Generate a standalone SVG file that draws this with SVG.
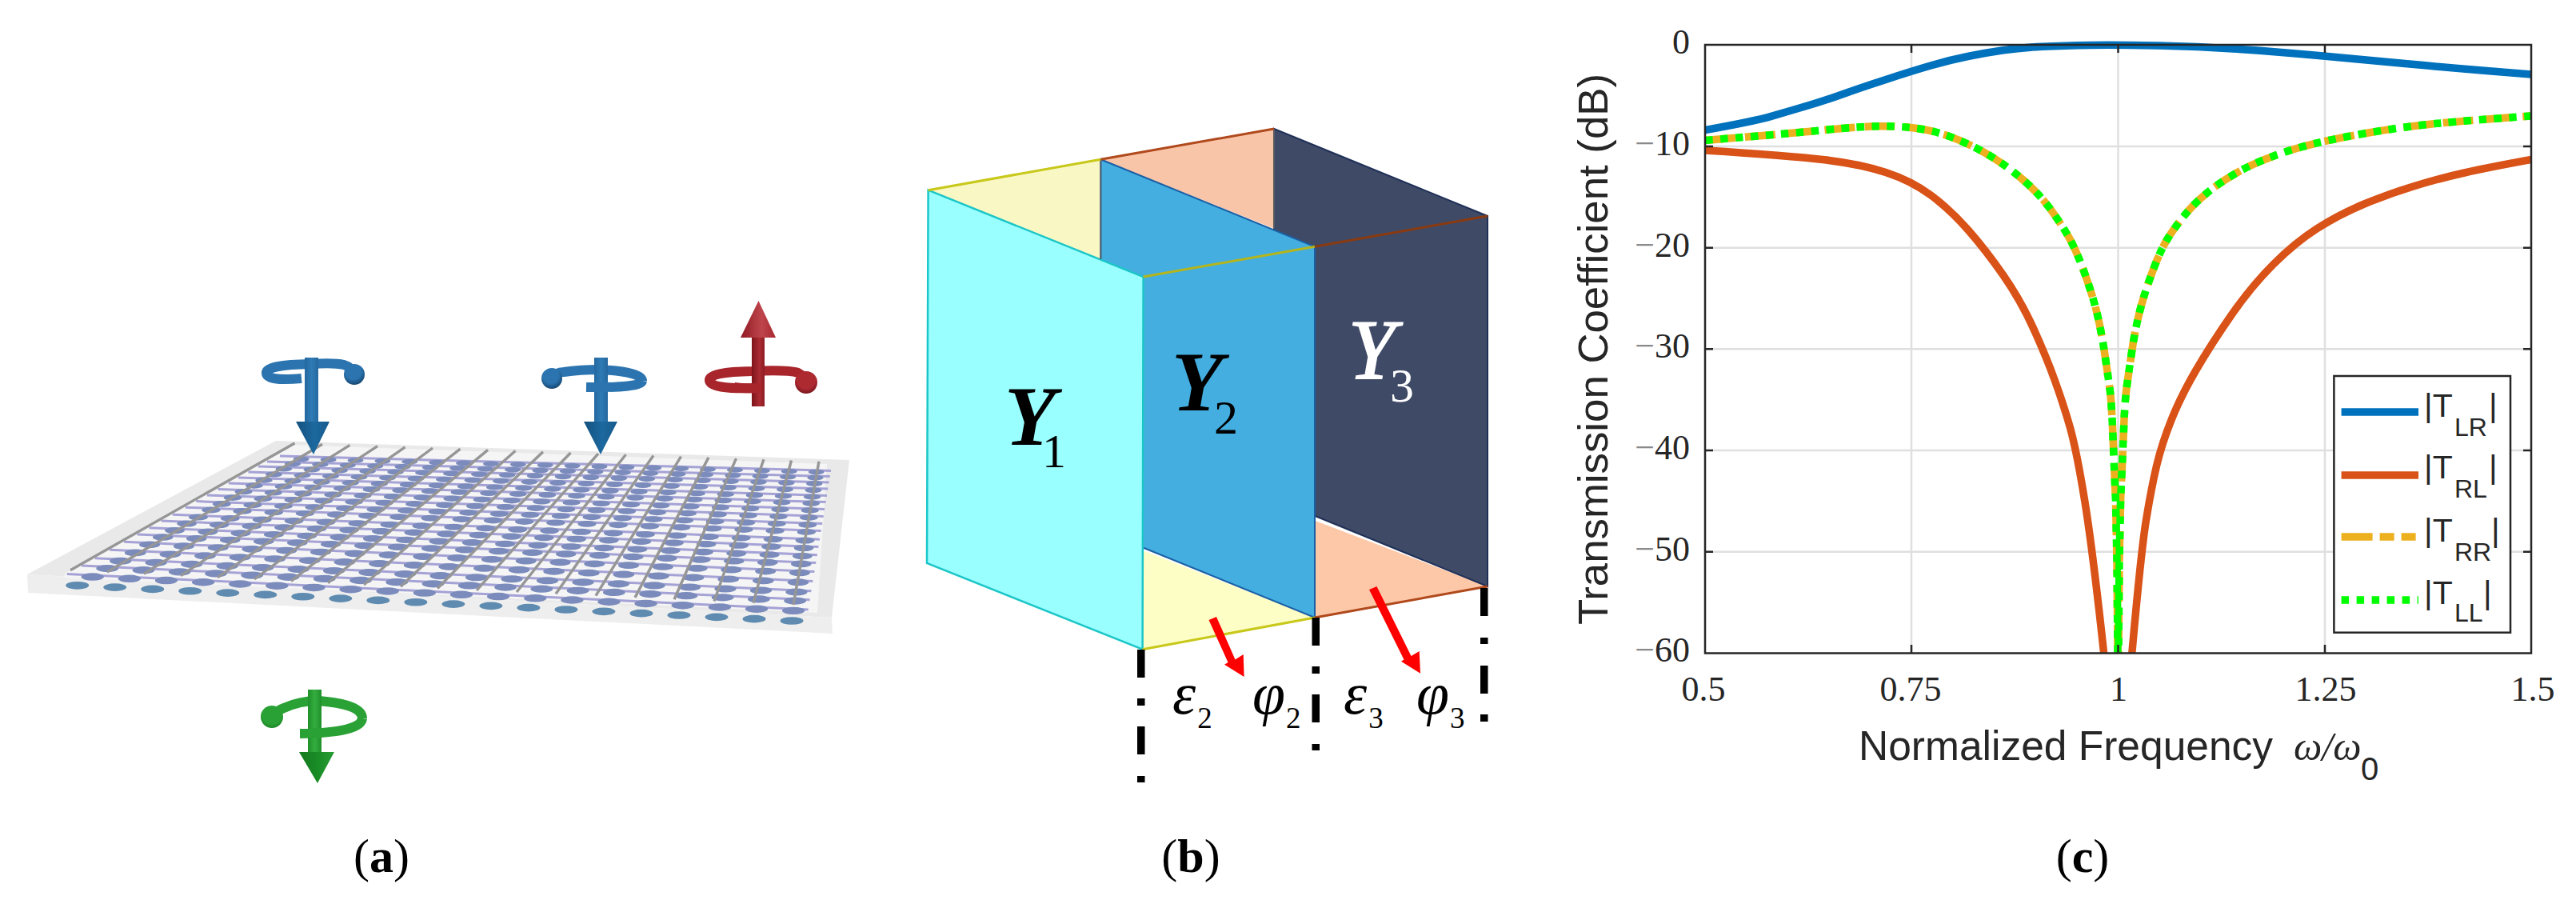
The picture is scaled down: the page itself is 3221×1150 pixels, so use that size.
<svg xmlns="http://www.w3.org/2000/svg" width="3221" height="1150" viewBox="0 0 3221 1150">
<style>
text{font-family:"Liberation Serif",serif}
.sans{font-family:"Liberation Sans",Arial,sans-serif;fill:#262626}
.tick{font-size:44px;fill:#262626}
.tm{fill:#8a8a8a}
.grid{stroke:#dfdfdf;stroke-width:2.5;fill:none}
.ax{stroke:#262626;stroke-width:2.5;fill:none}
.cv{fill:none;stroke-width:9.5;stroke-linejoin:round}
.dot{fill:none;stroke:#7a8bbc;stroke-linecap:round;stroke-dasharray:0 1}
.pl{stroke:#a5a2d6;stroke-width:3;fill:none}
.gl{stroke:#969696;stroke-width:3.4;fill:none}
.tube{fill:none;stroke-width:12;stroke-linecap:butt}
.blue{stroke:#2b74af}.red{stroke:#a8252c}.green{stroke:#2aa135}
.dd{fill:#000}
.math{font-style:italic;font-size:74px;fill:#000}
.sub{font-size:37px;fill:#000;font-style:normal}
.ybig{font-size:105px;font-style:italic}
.ysub{font-size:60px;font-style:normal;font-weight:normal}
.lab{font-size:60px;fill:#000}
.leg{font-size:41px}
.legs{font-size:32px}
</style>
<defs>
<linearGradient id="hb"><stop offset="0" stop-color="#15527f"/><stop offset=".55" stop-color="#1c689f"/><stop offset="1" stop-color="#175a8c"/></linearGradient>
<linearGradient id="sb"><stop offset="0" stop-color="#24689f"/><stop offset=".5" stop-color="#2f7bb6"/><stop offset="1" stop-color="#24689f"/></linearGradient>
<linearGradient id="hr"><stop offset="0" stop-color="#8f1a22"/><stop offset=".6" stop-color="#bf454c"/><stop offset="1" stop-color="#a82730"/></linearGradient>
<linearGradient id="sr"><stop offset="0" stop-color="#7d141b"/><stop offset=".6" stop-color="#ab2b32"/><stop offset="1" stop-color="#8d1c24"/></linearGradient>
<linearGradient id="hg"><stop offset="0" stop-color="#137a1e"/><stop offset=".55" stop-color="#1a8d27"/><stop offset="1" stop-color="#2a9c35"/></linearGradient>
<linearGradient id="sg"><stop offset="0" stop-color="#1f8f2a"/><stop offset=".5" stop-color="#34ad3f"/><stop offset="1" stop-color="#1f8f2a"/></linearGradient>
<radialGradient id="bb" cx=".45" cy=".35" r=".7"><stop offset=".55" stop-color="#2b74af"/><stop offset="1" stop-color="#123f66"/></radialGradient>
<radialGradient id="br" cx=".5" cy=".35" r=".7"><stop offset=".6" stop-color="#ad2a31"/><stop offset="1" stop-color="#6d1218"/></radialGradient>
<radialGradient id="bg" cx=".5" cy=".4" r=".7"><stop offset=".6" stop-color="#2aa135"/><stop offset="1" stop-color="#167a20"/></radialGradient>
<clipPath id="plot"><rect x="2132" y="50" width="1033" height="766.5"/></clipPath>
</defs>
<rect width="3221" height="1150" fill="#fff"/>

<g id="panel-a">
<g id="plate">
<polygon points="345,551 1062,575 1040,772 34,718" fill="#e9e9e9"/>
<polygon points="34,718 1040,772 1041,792 35,741" fill="#eeeeee"/>
<polygon points="82,716 366,556 1034,580 1022,766 80,722" fill="#f5f5f5"/>
</g>
<g id="purple-lines" class="pl" transform="translate(3,-2)">
<line x1="80.7" y1="719.4" x2="1007.6" y2="764.1"/>
<line x1="99.2" y1="708.9" x2="1009.6" y2="751.8"/>
<line x1="115.7" y1="699.7" x2="1011.4" y2="740.8"/>
<line x1="134.2" y1="689.3" x2="1013.4" y2="728.5"/>
<line x1="152.1" y1="679.3" x2="1015.4" y2="716.5"/>
<line x1="168.7" y1="669.9" x2="1017.2" y2="705.5"/>
<line x1="183.5" y1="661.7" x2="1018.8" y2="695.7"/>
<line x1="198.6" y1="653.1" x2="1020.4" y2="685.6"/>
<line x1="212.9" y1="645.2" x2="1022" y2="676.2"/>
<line x1="228.9" y1="636.2" x2="1023.7" y2="665.6"/>
<line x1="242.3" y1="628.6" x2="1025.2" y2="656.5"/>
<line x1="256" y1="620.9" x2="1026.7" y2="647.4"/>
<line x1="269.5" y1="613.4" x2="1028.1" y2="638.5"/>
<line x1="282.9" y1="605.9" x2="1029.6" y2="629.6"/>
<line x1="295" y1="599.1" x2="1030.9" y2="621.6"/>
<line x1="307.5" y1="592.1" x2="1032.3" y2="613.1"/>
<line x1="319.9" y1="585.1" x2="1033.6" y2="604.9"/>
<line x1="331" y1="578.9" x2="1034.8" y2="597.5"/>
<line x1="347" y1="572" x2="1036" y2="590.4"/>
</g>
<g id="dots" transform="scale(1,0.33333)">
<line class="dot" pathLength="19.01" style="stroke:#5f8bb0;stroke-width:29" x1="96.7" y1="2195.4" x2="990.5" y2="2328"/>
<line class="dot" pathLength="19.01" stroke-width="28.4" x1="115.7" y1="2163.3" x2="992.6" y2="2290.2"/>
<line class="dot" pathLength="19.01" stroke-width="27.8" x1="134.2" y1="2131.8" x2="994.6" y2="2253.3"/>
<line class="dot" pathLength="19.01" stroke-width="27.3" x1="150.7" y1="2103.9" x2="996.4" y2="2220.3"/>
<line class="dot" pathLength="19.01" stroke-width="26.7" x1="169.2" y1="2072.7" x2="998.4" y2="2183.4"/>
<line class="dot" pathLength="19.01" stroke-width="26.1" x1="187.1" y1="2042.4" x2="1000.4" y2="2147.7"/>
<line class="dot" pathLength="19.01" stroke-width="25.6" x1="203.7" y1="2014.2" x2="1002.2" y2="2114.7"/>
<line class="dot" pathLength="19.01" stroke-width="25" x1="218.5" y1="1989.3" x2="1003.8" y2="2085.3"/>
<line class="dot" pathLength="19.01" stroke-width="24.6" x1="233.6" y1="1963.5" x2="1005.4" y2="2055"/>
<line class="dot" pathLength="19.01" stroke-width="24" x1="247.9" y1="1939.5" x2="1007" y2="2026.8"/>
<line class="dot" pathLength="19.01" stroke-width="23.6" x1="263.9" y1="1912.5" x2="1008.7" y2="1995"/>
<line class="dot" pathLength="19.01" stroke-width="23.2" x1="277.3" y1="1889.7" x2="1010.2" y2="1968"/>
<line class="dot" pathLength="19.01" stroke-width="22.8" x1="291" y1="1866.3" x2="1011.7" y2="1940.7"/>
<line class="dot" pathLength="19.01" stroke-width="22.3" x1="304.5" y1="1843.8" x2="1013.1" y2="1914"/>
<line class="dot" pathLength="19.01" stroke-width="21.9" x1="317.9" y1="1821" x2="1014.6" y2="1887.3"/>
<line class="dot" pathLength="19.01" stroke-width="21.5" x1="330" y1="1800.6" x2="1015.9" y2="1863.3"/>
<line class="dot" pathLength="19.01" stroke-width="21.1" x1="342.5" y1="1779.3" x2="1017.3" y2="1838.1"/>
<line class="dot" pathLength="19.01" stroke-width="20.7" x1="354.9" y1="1758.3" x2="1018.6" y2="1813.5"/>
<line class="dot" pathLength="19.01" stroke-width="20.3" x1="366" y1="1739.4" x2="1019.8" y2="1791.3"/>
<line class="dot" pathLength="19.01" stroke-width="20" x1="376.7" y1="1721.4" x2="1021" y2="1770"/>
</g>
<g id="gray-lines" class="gl">
<line x1="88" y1="712.7" x2="368.5" y2="554"/>
<line x1="134" y1="715" x2="403" y2="555.2"/>
<line x1="180" y1="717.3" x2="437.5" y2="556.4"/>
<line x1="226" y1="719.5" x2="472" y2="557.6"/>
<line x1="272" y1="721.8" x2="506.5" y2="558.8"/>
<line x1="318" y1="724" x2="541" y2="560"/>
<line x1="364" y1="726.4" x2="575.5" y2="561.2"/>
<line x1="410" y1="728.7" x2="610" y2="562.4"/>
<line x1="455" y1="731" x2="644.5" y2="563.6"/>
<line x1="501" y1="733.2" x2="679" y2="564.8"/>
<line x1="547" y1="735.5" x2="713.5" y2="566"/>
<line x1="596" y1="737.8" x2="748" y2="567.1"/>
<line x1="646" y1="740" x2="782.5" y2="568.3"/>
<line x1="695" y1="742.3" x2="817" y2="569.5"/>
<line x1="745" y1="744.6" x2="851.5" y2="570.7"/>
<line x1="794" y1="746.9" x2="886" y2="571.9"/>
<line x1="843" y1="749.2" x2="920.5" y2="573.1"/>
<line x1="893" y1="751.5" x2="955" y2="574.3"/>
<line x1="942" y1="753.7" x2="989.5" y2="575.5"/>
<line x1="992" y1="756" x2="1024" y2="576.7"/>
</g>
<g id="arrow-blue-1">
<path class="tube blue" d="M377,473 Q333,477 333,466 Q333,456 388,455 Q418,453 430,456 Q440,459 443,468"/>
<circle cx="443" cy="468" r="13" fill="url(#bb)"/>
<rect x="381" y="447" width="17" height="82" fill="url(#sb)"/>
<polygon points="370,527 412,527 392,568" fill="url(#hb)"/>
</g>
<g id="arrow-blue-2">
<path class="tube blue" d="M690,473 Q695,465 705,465 Q725,462 750,462 Q803,465 803,476"/>
<circle cx="690" cy="473" r="13" fill="url(#bb)"/>
<rect x="743" y="447" width="17" height="82" fill="url(#sb)"/>
<path class="tube blue" d="M803,476 Q802,485 733,484"/>
<polygon points="730,527 772,527 751,568" fill="url(#hb)"/>
</g>
<g id="arrow-red">
<path class="tube red" d="M946,485 Q887,487 887,475 Q887,465 940,464 Q985,462 998,466 Q1006,470 1008,478"/>
<circle cx="1008" cy="478" r="14" fill="url(#br)"/>
<rect x="940" y="420" width="16" height="88" fill="url(#sr)"/>
<path class="tube red" d="M918,484 Q930,486 952,485"/>
<polygon points="926,422 970,422 948.5,376" fill="url(#hr)"/>
</g>
<g id="arrow-green">
<path class="tube green" d="M340,896 Q346,888 355,885 Q375,876 397,876 Q453,880 453,898"/>
<circle cx="340" cy="896" r="14" fill="url(#bg)"/>
<rect x="385" y="862" width="17" height="80" fill="url(#sg)"/>
<path class="tube green" d="M453,898 Q451,916 375,917"/>
<polygon points="374,940 418,940 397,979" fill="url(#hg)"/>
</g>
<text class="lab" x="477" y="1090" text-anchor="middle">(<tspan font-weight="bold">a</tspan>)</text>
</g>

<g id="panel-b">
<g id="floors">
<polygon points="1160.6,237.7 1376.3,199.3 1376.3,324" fill="#f9f8c4"/>
<polygon points="1376.3,199.3 1593,161 1593,285.7" fill="#f9c5a9"/>
<polygon points="1428.6,688 1644,772 1428.6,811.7" fill="#fdfdc6"/>
<polygon points="1644,650.7 1860,733 1644,772" fill="#fdc8a8"/>
</g>
<g id="face-Y3">
<polygon points="1593,161 1860,270 1860,733 1593,624" fill="#3f4a66" stroke="#1f3058" stroke-width="2"/>
</g>
<g id="face-Y2">
<polygon points="1376.3,199.3 1644,308.3 1644,772 1376.3,663" fill="#44aee0" stroke="#1a5fa5" stroke-width="2"/>
</g>
<g id="face-Y1">
<polygon points="1160.6,237.7 1429.6,346 1428.6,811.7 1159,704" fill="#99ffff" stroke="#1cc6c8" stroke-width="2.5"/>
</g>
<g id="edges" fill="none" stroke-width="3">
<path d="M1376.3,199.3V324" stroke="#5a6670" stroke-width="2"/>
<path d="M1593,161V285.7" stroke="#5a5a60" stroke-width="2"/>
<path d="M1160.6,237.7L1376.3,199.3" stroke="#c8c81a"/>
<path d="M1429.6,346L1644,308.3" stroke="#b5b51a"/>
<path d="M1428.6,811.7L1644,772" stroke="#c8c81a"/>
<path d="M1376.3,199.3L1593,161" stroke="#b0491c"/>
<path d="M1644,308.3L1860,270" stroke="#8a3a10"/>
<path d="M1644,772L1860,733" stroke="#b0491c"/>
</g>
<g id="dash-dots" class="dd">
<rect x="1422" y="812" width="9.5" height="35"/><rect x="1422" y="873" width="9.5" height="9"/><rect x="1422" y="908" width="9.5" height="35"/><rect x="1422" y="970" width="9.5" height="8"/>
<rect x="1640.5" y="772" width="9.5" height="35"/><rect x="1640.5" y="833" width="9.5" height="9"/><rect x="1640.5" y="868" width="9.5" height="35"/><rect x="1640.5" y="930" width="9.5" height="8"/>
<rect x="1851" y="735" width="9.5" height="35"/><rect x="1851" y="797" width="9.5" height="8"/><rect x="1851" y="832" width="9.5" height="35"/><rect x="1851" y="893" width="9.5" height="9"/>
</g>
<g id="red-arrows" fill="#ff0000" stroke="none">
<polygon points="1511.5,775 1521,771 1544.5,824.5 1554.7,818 1555.6,846 1531,830.7 1535.5,828"/>
<polygon points="1712,737 1721.5,733 1764.5,820 1774.7,814 1776,841.7 1752,826.7 1755.5,824.5"/>
</g>
<g id="labels-b">
<text class="ybig" x="1256" y="556" font-weight="bold" fill="#000">Y</text><text class="ysub" x="1303" y="584" fill="#000">1</text>
<text class="ybig" x="1465" y="513" font-weight="bold" fill="#000">Y</text><text class="ysub" x="1518" y="542" fill="#000">2</text>
<text class="ybig" x="1686" y="473" fill="#fff" stroke="#fff" stroke-width="2">Y</text><text class="ysub" x="1738" y="502" fill="#fff">3</text>
<text class="math" x="1466" y="892">ε<tspan class="sub" dx="2" dy="18">2</tspan></text>
<text class="math" x="1566" y="892">φ<tspan class="sub" dx="1" dy="18">2</tspan></text>
<text class="math" x="1680" y="892">ε<tspan class="sub" dx="2" dy="18">3</tspan></text>
<text class="math" x="1771" y="892">φ<tspan class="sub" dx="1" dy="18">3</tspan></text>
</g>
<text class="lab" x="1489" y="1090" text-anchor="middle">(<tspan font-weight="bold">b</tspan>)</text>
</g>

<g id="panel-c">
<g id="gridlines" class="grid">
<path d="M2132,183H3165M2132,309.7H3165M2132,436.3H3165M2132,563H3165M2132,689.7H3165"/>
<path d="M2390,56V816M2648.5,56V816M2907,56V816"/>
</g>
<g id="connectors" clip-path="url(#plot)">
<path id="c-TLR" class="cv" stroke="#0072bd" d="M2132,162.6 Q2192.5,151.8 2214.8,145.4 Q2237,139 2259.5,132.3 Q2282,125.6 2304,117.7 Q2326,109.7 2358,99.4 Q2390,89 2414,82 Q2438,75 2460.5,70.5 Q2483,66 2505,62.8 Q2527,59.5 2553.5,58.2 Q2580,56.8 2614,56.4 Q2648,56 2699,57 Q2750,58 2800,61.5 Q2850,65 2905,70 Q2960,75 3010,79.8 Q3060,84.5 3112.5,88.8 Q3165,93 3165,93"/>
<path id="c-TRL" class="cv" stroke="#d95319" d="M2132,188 Q2237,194.5 2281.5,199.8 Q2326,205 2358,215.5 Q2390,226 2414,243.8 Q2438,261.5 2460.5,287 Q2483,312.5 2505,344.3 Q2527,376 2542.8,411 Q2558.6,446 2569.3,475.5 Q2580,505 2588.3,534 Q2596.5,563 2606.8,626.5 Q2617,690 2631,820 M2665.5,820 Q2677,690 2683.5,650 Q2690,610 2696.5,582.5 Q2703,555 2715,525 Q2727,495 2746,462.5 Q2765,430 2790,394 Q2815,358 2842.5,330.5 Q2870,303 2897.5,285.5 Q2925,268 2955,255.5 Q2985,243 3017.5,233 Q3050,223 3081.5,216 Q3113,209 3165,199.5"/>
<path id="c-TRR" class="cv" stroke="#edb120" stroke-dasharray="38 12" d="M2132,175.4 Q2237,167 2281.5,162.5 Q2326,158 2348.5,157.8 Q2371,157.5 2393.5,160 Q2416,162.6 2438,170.6 Q2460,178.6 2482.5,191.3 Q2505,204 2527.5,223 Q2550,242 2565,263 Q2580,284 2588.5,299.5 Q2597,315 2607.3,343.5 Q2617.5,372 2622.7,394 Q2627.8,416 2631.7,442 Q2635.6,468 2637.8,484 Q2640,500 2641.4,531.5 Q2642.7,563 2645.4,625 L2647,701 L2648,816 L2649,816 L2650,701 L2651.6,625 Q2654.3,563 2655.7,531.5 Q2657,500 2659.2,484 Q2661.4,468 2665.2,442 Q2669,416 2674.3,394 Q2679.5,372 2689.8,344 Q2700,316 2708.5,301.5 Q2717,287 2732,268.5 Q2747,250 2769.5,233.5 Q2792,217 2818.5,205 Q2845,193 2876,184.2 Q2907,175.4 2958.5,166.5 Q3010,157.7 3051.5,153.9 Q3093,150 3165,145"/>
<path id="c-TLL" class="cv" stroke="#00ff00" stroke-dasharray="9.5 9.5" d="M2132,175.4 Q2237,167 2281.5,162.5 Q2326,158 2348.5,157.8 Q2371,157.5 2393.5,160 Q2416,162.6 2438,170.6 Q2460,178.6 2482.5,191.3 Q2505,204 2527.5,223 Q2550,242 2565,263 Q2580,284 2588.5,299.5 Q2597,315 2607.3,343.5 Q2617.5,372 2622.7,394 Q2627.8,416 2631.7,442 Q2635.6,468 2637.8,484 Q2640,500 2641.4,531.5 Q2642.7,563 2645.4,625 L2647,701 L2648,816 L2649,816 L2650,701 L2651.6,625 Q2654.3,563 2655.7,531.5 Q2657,500 2659.2,484 Q2661.4,468 2665.2,442 Q2669,416 2674.3,394 Q2679.5,372 2689.8,344 Q2700,316 2708.5,301.5 Q2717,287 2732,268.5 Q2747,250 2769.5,233.5 Q2792,217 2818.5,205 Q2845,193 2876,184.2 Q2907,175.4 2958.5,166.5 Q3010,157.7 3051.5,153.9 Q3093,150 3165,145"/>
</g>
<g id="axes" class="ax">
<rect x="2132" y="56" width="1033" height="760.5"/>
<path d="M2132,183h10M2132,309.7h10M2132,436.3h10M2132,563h10M2132,689.7h10M3165,183h-10M3165,309.7h-10M3165,436.3h-10M3165,563h-10M3165,689.7h-10M2390,56v10M2648.5,56v10M2907,56v10M2390,816v-10M2648.5,816v-10M2907,816v-10"/>
</g>
<g id="tick-labels" class="tick">
<text x="2113" y="67" text-anchor="end">0</text>
<text x="2113" y="194" text-anchor="end"><tspan class="tm">−</tspan>10</text>
<text x="2113" y="321" text-anchor="end"><tspan class="tm">−</tspan>20</text>
<text x="2113" y="447" text-anchor="end"><tspan class="tm">−</tspan>30</text>
<text x="2113" y="574" text-anchor="end"><tspan class="tm">−</tspan>40</text>
<text x="2113" y="701" text-anchor="end"><tspan class="tm">−</tspan>50</text>
<text x="2113" y="827" text-anchor="end"><tspan class="tm">−</tspan>60</text>
<text x="2130" y="876" text-anchor="middle">0.5</text>
<text x="2389" y="876" text-anchor="middle">0.75</text>
<text x="2649" y="876" text-anchor="middle">1</text>
<text x="2908" y="876" text-anchor="middle">1.25</text>
<text x="3167" y="876" text-anchor="middle">1.5</text>
</g>
<text class="sans" font-size="52" transform="translate(2009.5,781) rotate(-90)" textLength="689" lengthAdjust="spacingAndGlyphs">Transmission Coefficient (dB)</text>
<text class="sans" x="2324" y="950" font-size="51.5">Normalized Frequency <tspan x="2868" style="font-family:'Liberation Serif',serif;font-style:italic" font-size="50">ω/ω</tspan><tspan x="2952" dy="25" font-size="40">0</tspan></text>
<g id="legend">
<rect x="2918.4" y="470" width="220.6" height="320.7" fill="#fff" stroke="#262626" stroke-width="2.5"/>
<line class="cv" stroke="#0072bd" x1="2927.6" y1="515" x2="3024" y2="515"/>
<line class="cv" stroke="#d95319" x1="2927.6" y1="594" x2="3024" y2="594"/>
<line class="cv" stroke="#edb120" stroke-dasharray="39 9 18 9 18" x1="2927.6" y1="671" x2="3024" y2="671"/>
<line class="cv" stroke="#00ff00" stroke-dasharray="9.5 9.5" x1="2927.6" y1="750" x2="3024" y2="750"/>
<text class="sans leg" x="3031" y="521">|T<tspan class="legs" x="3069" dy="24">LR</tspan><tspan x="3112" dy="-24">|</tspan></text>
<text class="sans leg" x="3031" y="598">|T<tspan class="legs" x="3069" dy="24">RL</tspan><tspan x="3112" dy="-24">|</tspan></text>
<text class="sans leg" x="3031" y="677">|T<tspan class="legs" x="3069" dy="24">RR</tspan><tspan x="3115" dy="-24">|</tspan></text>
<text class="sans leg" x="3031" y="755">|T<tspan class="legs" x="3069" dy="22">LL</tspan><tspan x="3105" dy="-22">|</tspan></text>
</g>
<text class="lab" x="2604" y="1090" text-anchor="middle">(<tspan font-weight="bold">c</tspan>)</text>
</g>
</svg>
